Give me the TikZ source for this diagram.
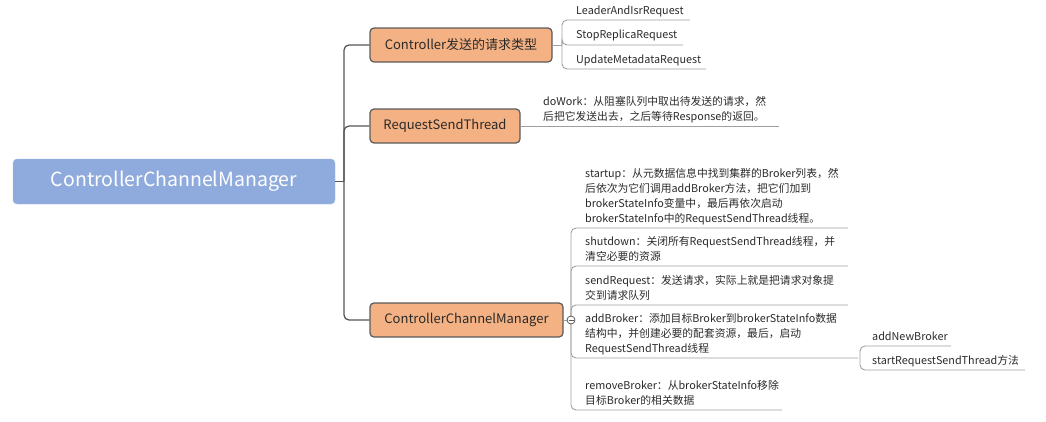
\documentclass[tikz,border=0pt]{standalone}
\usepackage{fontspec}
\setmainfont{Noto Sans CJK SC}
\usetikzlibrary{calc}
\definecolor{rootblue}{HTML}{8FAADC}
\definecolor{boxorange}{HTML}{F4B183}
\definecolor{boxline}{HTML}{5A5A5A}
\definecolor{spinegray}{HTML}{555555}
\definecolor{leafgray}{HTML}{A0A0A0}
\definecolor{txt}{HTML}{2A2A2A}
\newcommand{\mydepth}{\rule[-3pt]{0pt}{1pt}}
\tikzset{
  rootbox/.style={rounded corners=4pt, fill=rootblue, draw=rootblue!80!white, text=white,
    font=\fontsize{19.5}{22}\selectfont, minimum height=45pt, inner sep=0pt},
  topicbox/.style={rounded corners=4pt, fill=boxorange, draw=boxline, line width=1.2pt, text=txt,
    font=\fontsize{13}{15}\selectfont, minimum height=34pt, inner sep=0pt},
  leaftext/.style={anchor=south west, align=left, inner xsep=0pt, inner ysep=0pt, text=txt,
    font=\fontsize{10.8}{15}\selectfont},
  spine/.style={draw=spinegray, line width=1.3pt, rounded corners=5pt},
  leafline/.style={draw=leafgray, line width=0.9pt, rounded corners=5pt},
}
\begin{document}
\begin{tikzpicture}[x=1pt,y=-1pt]
\useasboundingbox (0,0) rectangle (1046,421);
% nodes
\node[rootbox, minimum width=322pt] (root) at (174,181.5) {ControllerChannelManager};
\node[topicbox, minimum width=182pt] (c1) at (461,45) {Controller发送的请求类型};
\node[topicbox, minimum width=150pt] (c2) at (445,126) {RequestSendThread};
\node[topicbox, minimum width=193pt] (c3) at (466.5,320) {ControllerChannelManager};
% junctions
\coordinate (sp) at (344,181.5);
\coordinate (j1) at (562,45);
\coordinate (j3) at (571,320);
\coordinate (j4) at (860,358);
% leaf line ends
\coordinate (e11) at (690,20);
\coordinate (e12) at (683,45);
\coordinate (e13) at (706,69);
\coordinate (e21) at (779,126);
\coordinate (e31) at (848,228);
\coordinate (e32) at (848,266);
\coordinate (e33) at (848,305);
\coordinate (e34) at (858,358);
\coordinate (e35) at (782,410);
\coordinate (e41) at (951,346);
\coordinate (e42) at (1025,370);
% leaf texts
\node[leaftext] (l11) at (576,17.5) {LeaderAndIsrRequest\mydepth};
\node[leaftext] (l12) at (576,42) {StopReplicaRequest\mydepth};
\node[leaftext] (l13) at (576,66.5) {UpdateMetadataRequest\mydepth};
\node[leaftext] (l21) at (543,123.5) {doWork：从阻塞队列中取出待发送的请求，然\\后把它发送出去，之后等待Response的返回。\mydepth};
\node[leaftext] (l31) at (585,225.5) {startup：从元数据信息中找到集群的Broker列表，然\\后依次为它们调用addBroker方法，把它们加到\\brokerStateInfo变量中，最后再依次启动\\brokerStateInfo中的RequestSendThread线程。\mydepth};
\node[leaftext] (l32) at (585,263.5) {shutdown：关闭所有RequestSendThread线程，并\\清空必要的资源\mydepth};
\node[leaftext] (l33) at (585,302.5) {sendRequest：发送请求，实际上就是把请求对象提\\交到请求队列\mydepth};
\node[leaftext] (l34) at (585,355.5) {addBroker：添加目标Broker到brokerStateInfo数据\\结构中，并创建必要的配套资源，最后，启动\\RequestSendThread线程\mydepth};
\node[leaftext] (l35) at (585,407.5) {removeBroker：从brokerStateInfo移除\\目标Broker的相关数据\mydepth};
\node[leaftext] (l41) at (872,343.5) {addNewBroker\mydepth};
\node[leaftext] (l42) at (872,367.5) {startRequestSendThread方法\mydepth};
% spine
\draw[spine] (root.east) -- (sp);
\draw[spine] (sp) |- (c1.west);
\draw[spine] (sp) |- (c2.west);
\draw[spine] (sp) |- (c3.west);
% branch 1
\draw[leafline] (c1.east) -- (j1);
\draw[leafline] (j1) |- (e11);
\draw[leafline] (j1) |- (e12);
\draw[leafline] (j1) |- (e13);
% branch 2
\draw[leafline] (c2.east) -- (e21);
% branch 3
\draw[leafline] (c3.east) -- (j3);
\draw[leafline] (j3) |- (e31);
\draw[leafline] (j3) |- (e32);
\draw[leafline] (j3) |- (e33);
\draw[leafline] (j3) |- (e34);
\draw[leafline] (j3) |- (e35);
\draw[leafline] (j4) |- (e41);
\draw[leafline] (j4) |- (e42);
% collapse marker
\node[circle, draw=boxline, fill=white, line width=0.8pt, minimum size=8pt, inner sep=0pt] (col) at (j3) {};
\draw[boxline, line width=0.8pt] ([xshift=-2.5pt]col.center) -- ([xshift=2.5pt]col.center);
\end{tikzpicture}
\end{document}
